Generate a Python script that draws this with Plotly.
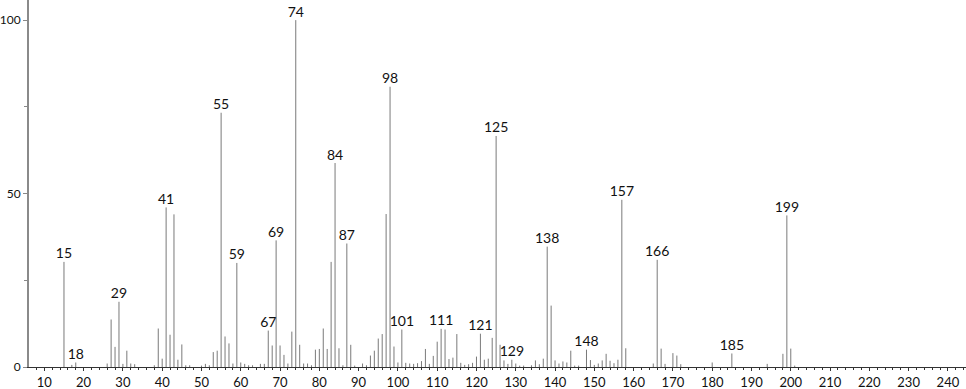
import plotly.graph_objects as go

mz = [15, 17, 18, 26, 27, 28, 29, 30, 31, 32, 33, 38, 39, 40, 41, 42, 43, 44, 45, 46, 47,
      50, 51, 52, 53, 54, 55, 56, 57, 58, 59, 60, 61, 62, 63, 65, 66, 67, 68, 69, 70,
      71, 72, 73, 74, 75, 76, 77, 78, 79, 80, 81, 82, 83, 84, 85, 86, 87, 88, 89, 91,
      92, 93, 94, 95, 96, 97, 98, 99, 100, 101, 102, 103, 104, 105, 106, 107, 108, 109,
      110, 111, 112, 113, 114, 115, 116, 117, 118, 119, 120, 121, 122, 123, 124, 125,
      126, 127, 128, 129, 130, 131, 132, 134, 135, 136, 137, 138, 139, 140, 141, 142,
      143, 144, 145, 146, 148, 149, 150, 151, 152, 153, 154, 155, 156, 157, 158, 165,
      166, 167, 168, 170, 171, 172, 180, 185, 194, 198, 199, 200, 201]
intensity = [30.3, 0.6, 1.3, 1.0, 13.7, 5.8, 18.8, 0.9, 4.7, 1.0, 0.8, 0.5, 11.1, 2.4, 46.0,
             9.3, 44.0, 2.1, 6.5, 0.5, 0.5,
             0.4, 0.9, 0.5, 4.3, 4.7, 73.3, 8.8, 6.8, 1.0, 30.0, 1.3, 0.9, 0.5, 0.5, 0.9,
             0.9, 10.5, 6.2, 36.5, 6.2,
             3.5, 1.0, 10.2, 100.0, 6.4, 1.0, 1.0, 0.5, 5.0, 5.2, 11.1, 5.2, 30.3, 58.8,
             5.4, 0.5, 35.6, 6.4, 0.4, 1.0,
             0.5, 3.3, 4.7, 8.2, 9.5, 44.1, 80.8, 5.9, 1.3, 10.8, 1.2, 1.0, 0.9, 1.1,
             1.7, 5.2, 0.9, 3.2,
             7.3, 11.0, 10.8, 2.3, 2.7, 9.5, 1.2, 0.6, 0.8, 1.2, 3.0, 9.6, 2.1, 2.4, 8.4,
             66.6,
             6.4, 1.9, 0.9, 2.1, 1.0, 0.4, 0.4, 0.5, 1.9, 0.8, 2.4, 34.7, 17.7, 1.9, 1.0,
             1.6,
             1.3, 4.7, 0.4, 0.4, 5.0, 2.0, 0.6, 1.0, 1.9, 3.8, 1.8, 1.1, 2.1, 48.2, 5.4,
             1.0,
             30.9, 5.3, 0.9, 4.0, 3.3, 0.8, 1.3, 3.9, 0.9, 3.8, 43.7, 5.3, 0.4]

labeled_mz = [15, 18, 29, 41, 55, 59, 67, 69, 74, 84, 87, 98, 101, 111, 121, 125, 129,
              138, 148, 157, 166, 185, 199]

x_ticks = list(range(10, 250, 10))
y_ticks = [0, 50, 100]

lookup = dict(zip(mz, intensity))

seg_x, seg_y = [], []
for m, h in zip(mz, intensity):
    seg_x += [m, m, None]
    seg_y += [0, h, None]

FONT = "Lato, 'DejaVu Sans', sans-serif"

fig = go.Figure()
fig.add_trace(go.Scatter(
    x=seg_x, y=seg_y, mode="lines",
    line=dict(color="#7a7a7a", width=1),
    hoverinfo="skip", showlegend=False,
))
fig.add_trace(go.Scatter(
    x=labeled_mz, y=[lookup[m] for m in labeled_mz],
    mode="text", text=[str(m) for m in labeled_mz],
    textposition="top center",
    textfont=dict(family=FONT, size=14, color="#111111"),
    hoverinfo="skip", showlegend=False,
))

fig.update_layout(
    width=966, height=389,
    margin=dict(l=29, r=0, t=0, b=22, autoexpand=False),
    plot_bgcolor="white", paper_bgcolor="white",
    font=dict(family=FONT, size=14, color="#111111"),
    xaxis=dict(
        range=[6.1, 244.6], tickvals=x_ticks, ticks="outside", ticklen=3,
        tickcolor="#333333", showline=True, linecolor="#333333", linewidth=1,
        showgrid=False, zeroline=False, automargin=False,
        minor=dict(dtick=2, tick0=0, ticks="outside", ticklen=2, tickcolor="#333333"),
        tickfont=dict(family=FONT, size=13, color="#111111"),
    ),
    yaxis=dict(
        range=[0, 105.8], tickvals=y_ticks, ticks="outside", ticklen=4,
        tickcolor="#888888", showline=True, linecolor="#8a8a8a", linewidth=2,
        showgrid=False, zeroline=False, automargin=False,
        minor=dict(tickvals=[25, 75], ticks="outside", ticklen=3, tickcolor="#888888"),
        tickfont=dict(family=FONT, size=12, color="#111111"),
    ),
)

fig.write_html("out.html")
